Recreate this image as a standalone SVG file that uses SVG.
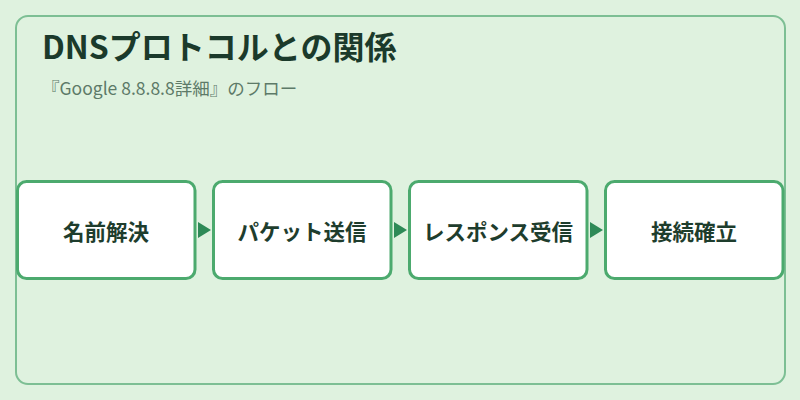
<svg xmlns="http://www.w3.org/2000/svg" width="800" height="400" viewBox="0 0 800 400">
<style>
.title{font-family:"Noto Sans CJK JP","Noto Sans",sans-serif;font-size:32px;font-weight:700;fill:#1b3a2b}
.sub{font-family:"Noto Sans CJK JP","Noto Sans",sans-serif;font-size:17.5px;fill:#5d7a68}
.box{fill:#ffffff;stroke:#4caa6e;stroke-width:3}
.lbl{font-family:"Noto Sans CJK JP","Noto Sans",sans-serif;font-size:21.5px;font-weight:700;fill:#1e3d2d;text-anchor:middle;dominant-baseline:central}
.conn{stroke:none;fill:none}
</style>
<defs>
<marker id="arr" markerWidth="13" markerHeight="16" refX="13" refY="8" orient="auto" markerUnits="userSpaceOnUse">
<path d="M0,0 L13,8 L0,16 Z" fill="#2e8a57"/>
</marker>
</defs>
<rect x="0" y="0" width="800" height="400" fill="#dff2df"/>
<rect x="16" y="16" width="769" height="368" rx="12" fill="#dff2df" stroke="#7dbf94" stroke-width="2"/>
<text class="title" x="42" y="59">DNSプロトコルとの関係</text>
<text class="sub" x="42" y="95">『Google 8.8.8.8詳細』のフロー</text>
<g id="connectors">
<path class="conn" d="M198,230 L211,230" marker-end="url(#arr)"/>
<path class="conn" d="M394,230 L407,230" marker-end="url(#arr)"/>
<path class="conn" d="M590,230 L603,230" marker-end="url(#arr)"/>
</g>
<g id="n1"><rect class="box" x="17.5" y="181.5" width="177.5" height="97" rx="9"/><text class="lbl" x="106" y="230">名前解決</text></g>
<g id="n2"><rect class="box" x="213.5" y="181.5" width="177.5" height="97" rx="9"/><text class="lbl" x="302" y="230">パケット送信</text></g>
<g id="n3"><rect class="box" x="409.5" y="181.5" width="177.5" height="97" rx="9"/><text class="lbl" x="498" y="230">レスポンス受信</text></g>
<g id="n4"><rect class="box" x="605.5" y="181.5" width="177.5" height="97" rx="9"/><text class="lbl" x="694" y="230">接続確立</text></g>
</svg>
